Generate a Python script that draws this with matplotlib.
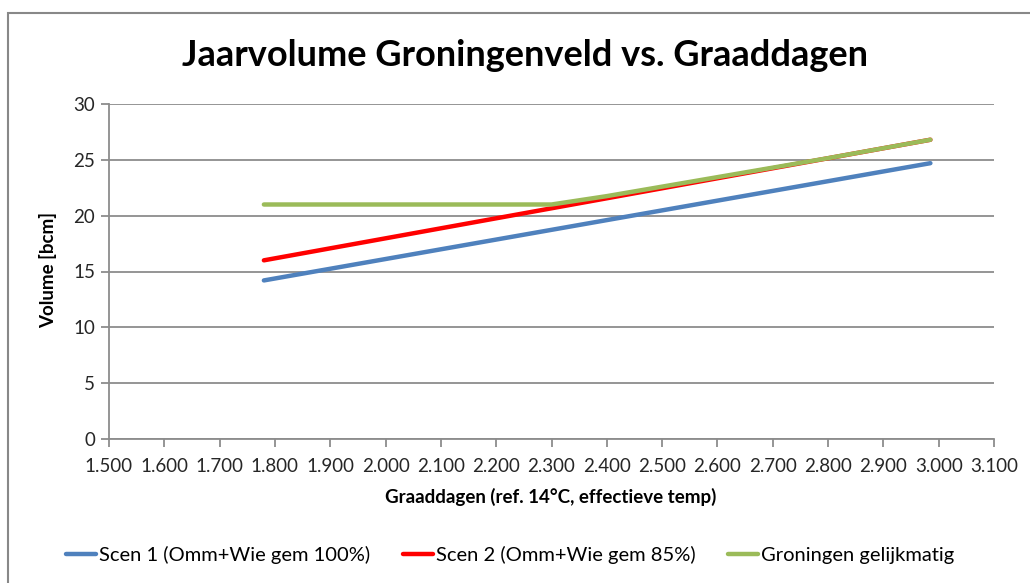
import matplotlib
matplotlib.use("Agg")
import matplotlib.pyplot as plt
from matplotlib.patches import Rectangle
from matplotlib.ticker import FuncFormatter, MultipleLocator

title = "Jaarvolume Groningenveld vs. Graaddagen"
xlabel = "Graaddagen (ref. 14°C, effectieve temp)"
ylabel = "Volume [bcm]"

scen1_x = [1780, 2985]
scen1_y = [14.2, 24.7]
scen2_x = [1780, 2985]
scen2_y = [16.0, 26.8]
gron_x = [1780, 2300, 2400, 2500, 2600, 2700, 2800, 2985]
gron_y = [21.0, 21.0, 21.75, 22.6, 23.45, 24.3, 25.15, 26.8]

labels = ["Scen 1 (Omm+Wie gem 100%)", "Scen 2 (Omm+Wie gem 85%)", "Groningen gelijkmatig"]
colors = ["#4F81BD", "#FF0000", "#9BBB59"]

plt.rcParams['font.family'] = ['Lato', 'DejaVu Sans']

fig = plt.figure(figsize=(10.30, 5.83), dpi=100)
ax = fig.add_axes([109/1030, 1-439/583, (994-109)/1030, (439-104)/583])

gridc = "#8C8C8C"
ax.plot(scen1_x, scen1_y, color=colors[0], lw=3.2, solid_capstyle='round', label=labels[0], zorder=3)
ax.plot(scen2_x, scen2_y, color=colors[1], lw=3.2, solid_capstyle='round', label=labels[1], zorder=3)
ax.plot(gron_x, gron_y, color=colors[2], lw=3.2, solid_capstyle='round', label=labels[2], zorder=4)

ax.set_xlim(1500, 3100)
ax.set_ylim(0, 30)
ax.xaxis.set_major_locator(MultipleLocator(100))
ax.yaxis.set_major_locator(MultipleLocator(5))
ax.xaxis.set_major_formatter(FuncFormatter(lambda v, p: f"{v:,.0f}".replace(",", ".")))
ax.yaxis.grid(True, color=gridc, lw=1.3)
ax.set_axisbelow(True)
for s in ["top", "right"]:
    ax.spines[s].set_visible(False)
for s in ["left", "bottom"]:
    ax.spines[s].set_color(gridc)
    ax.spines[s].set_linewidth(1.3)
ax.tick_params(axis='both', colors=gridc, labelcolor="#262626", labelsize=13.5, width=1.3, length=6)
ax.tick_params(axis='x', pad=8)
ax.tick_params(axis='y', pad=4)

fig.text(525/1030, 1-55/583, title, ha='center', va='center', fontsize=26, fontweight='bold', color='black')
fig.text(551/1030, 1-497/583, xlabel, ha='center', va='center', fontsize=13.5, fontweight='bold', color='black')
fig.text(48/1030, 1-270/583, ylabel, ha='center', va='center', rotation=90, fontsize=13.5, fontweight='bold', color='black')

fig.legend(loc='center', bbox_to_anchor=(510/1030, 1-555/583), ncol=3, frameon=False,
           fontsize=14.5, handlelength=1.5, handletextpad=0.15, columnspacing=1.6)

fig.patches.append(Rectangle((8/1030, -0.1), 1.2, 1-13/583+0.1, transform=fig.transFigure,
                             fill=False, edgecolor="#888888", lw=1.5, clip_on=False))

fig.savefig("out.png", dpi=100)
